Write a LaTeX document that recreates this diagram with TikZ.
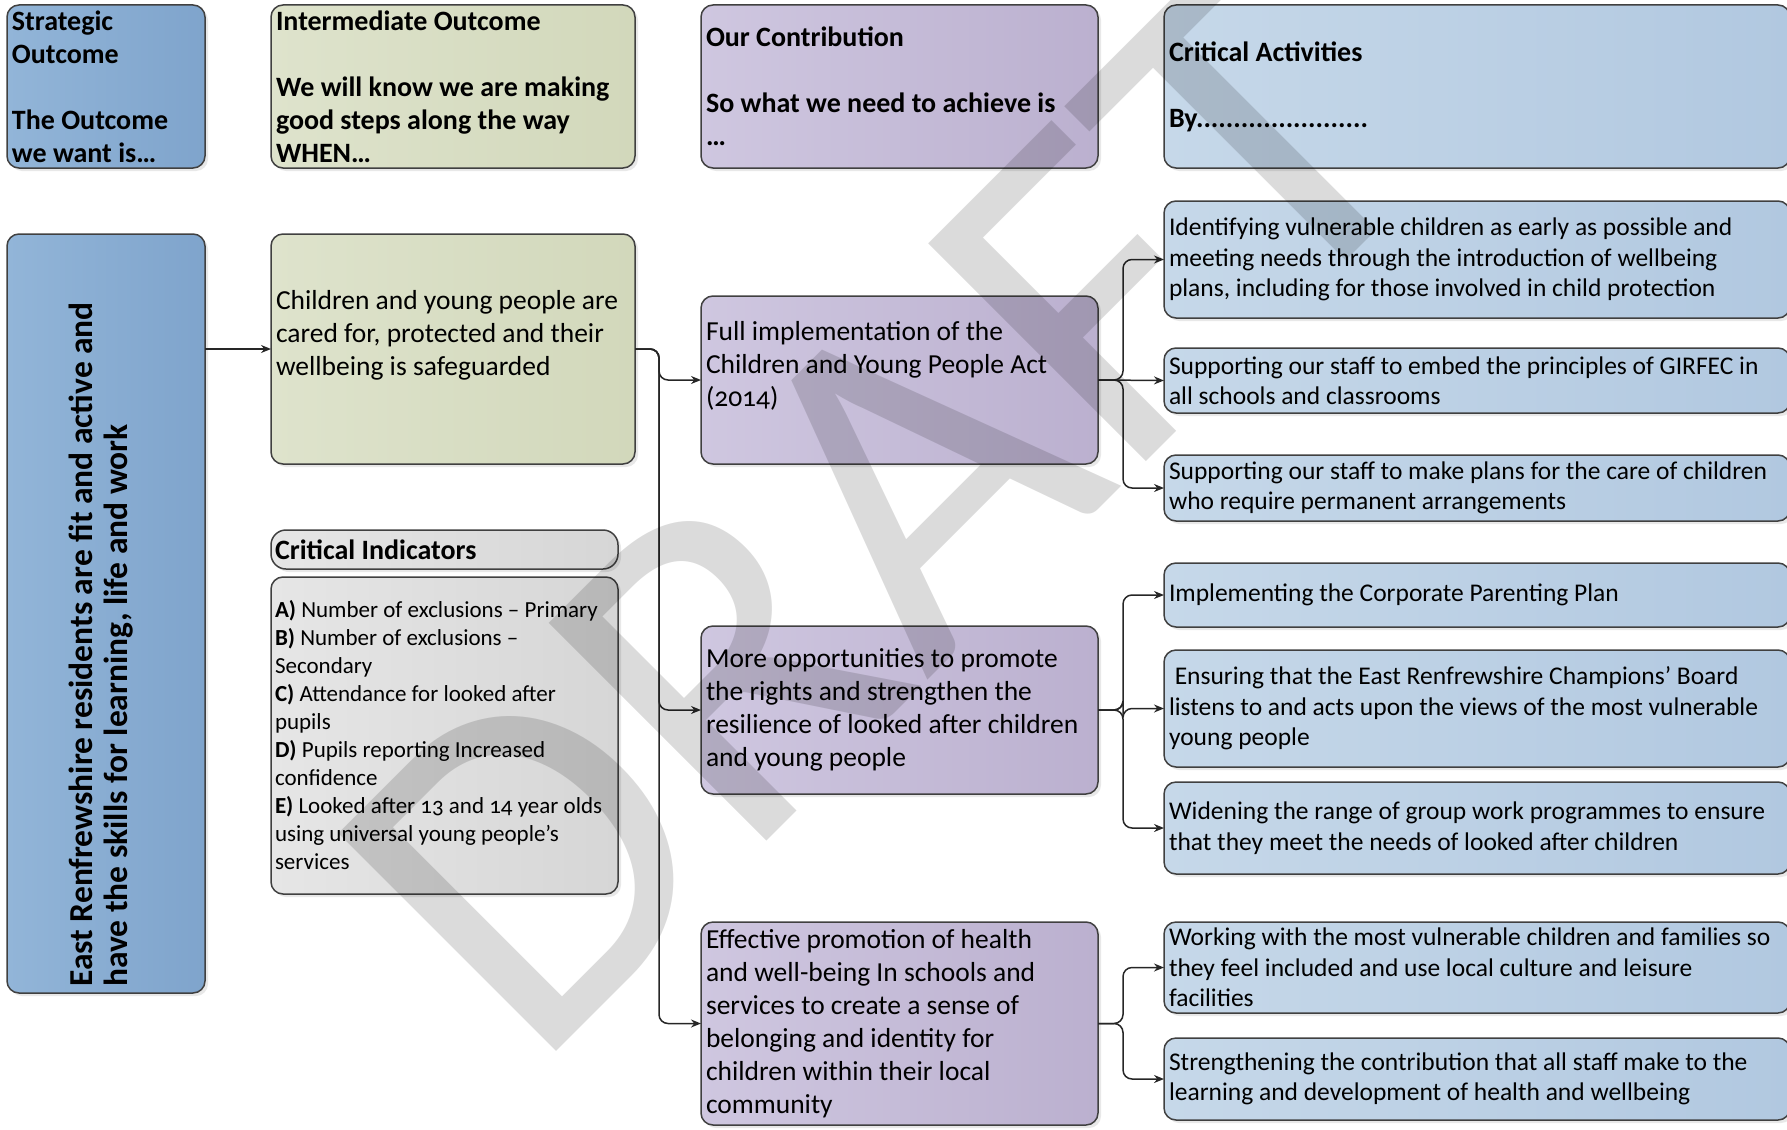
\documentclass[tikz,border=0pt]{standalone}
\usepackage{fontspec}
\setmainfont{Carlito}[Numbers=OldStyle]
\usetikzlibrary{shapes,arrows.meta,calc,positioning,shadows}

\definecolor{soblueA}{RGB}{146,181,216}
\definecolor{soblueB}{RGB}{127,164,204}
\definecolor{iogreenA}{RGB}{222,227,204}
\definecolor{iogreenB}{RGB}{210,216,187}
\definecolor{ocpurpleA}{RGB}{207,199,224}
\definecolor{ocpurpleB}{RGB}{187,176,207}
\definecolor{cablueA}{RGB}{198,216,233}
\definecolor{cablueB}{RGB}{177,200,224}
\definecolor{cigreyA}{RGB}{230,230,230}
\definecolor{cigreyB}{RGB}{214,214,214}

\tikzset{
  box/.style={rectangle, rounded corners=12pt, draw=black!75, line width=1.5pt,
    inner xsep=5pt, inner ysep=0pt, outer sep=0pt, align=flush left,
    execute at begin node={\hyphenpenalty=10000\relax},
    drop shadow={shadow xshift=3pt, shadow yshift=-3pt, opacity=0.18}},
  headtxt/.style={font=\bfseries\fontsize{28pt}{33pt}\selectfont},
  bodytxt/.style={font=\fontsize{27.5pt}{33pt}\selectfont},
  acttxt/.style={font=\fontsize{25.5pt}{30.5pt}\selectfont},
  indtxt/.style={font=\fontsize{23pt}{28pt}\selectfont},
  strategic/.style={box, left color=soblueA, right color=soblueB, text width=188pt},
  interm/.style={box, left color=iogreenA, right color=iogreenB, text width=354pt},
  contrib/.style={box, left color=ocpurpleA, right color=ocpurpleB, text width=387pt},
  activity/.style={box, left color=cablueA, right color=cablueB, text width=616pt, acttxt},
  indic/.style={box, left color=cigreyA, right color=cigreyB, inner xsep=4pt, text width=339pt},
  link/.style={line width=1.5pt, draw=black!85, rounded corners=9pt,
    -{Stealth[length=10pt,width=8pt]}},
  wmark/.style={font=\fontsize{480pt}{480pt}\selectfont, text=black, text opacity=0.14, inner sep=0pt}
}

\begin{document}
\begin{tikzpicture}
  \useasboundingbox (0,0) rectangle (1787pt,-1129pt);

  % header row
  \node[strategic, headtxt, minimum height=163pt, anchor=north west] (soh) at (7pt,-5pt)
    {Strategic\\Outcome\\[33pt]The Outcome\\we want is…};
  \node[interm, headtxt, minimum height=163pt, right=66pt of soh] (ioh)
    {Intermediate Outcome\\[33pt]We will know we are making\\good steps along the way\\WHEN…};
  \node[contrib, headtxt, minimum height=163pt, right=66pt of ioh] (och)
    {Our Contribution\\[33pt]So what we need to achieve is\\…};
  \node[activity, headtxt, minimum height=163pt, right=66pt of och] (cah)
    {Critical Activities\\[33pt]By.......................};

  % strategic outcome
  \node[strategic, minimum height=759pt, below=66pt of soh] (so) {};
  \node[rotate=90, anchor=west, inner sep=0pt, align=left,
        font=\bfseries\fontsize{33.5pt}{35pt}\selectfont] (sotxt)
    at ([xshift=-5pt, yshift=6pt]so.south)
    {East Renfrewshire residents are fit and active and\\have the skills for learning, life and work};

  % intermediate outcome and indicators
  \node[interm, bodytxt, minimum height=230pt, below=66pt of ioh] (io)
    {Children and young people are\\cared for, protected and their\\wellbeing is safeguarded\\\mbox{}};
  \node[indic, headtxt, rounded corners=15pt, minimum height=39pt,
        below=66pt of io.south west, anchor=north west] (cit) {Critical Indicators};
  \node[indic, indtxt, minimum height=317pt, below=8pt of cit] (cib)
    {\textbf{A)} Number of exclusions – Primary\\
     \textbf{B)} Number of exclusions –\\
     Secondary\\
     \textbf{C)} Attendance for looked after\\
     pupils\\
     \textbf{D)} Pupils reporting Increased\\
     confidence\\
     \textbf{E)} Looked after 13 and 14 year olds\\
     using universal young people’s\\
     services};

  % contributions
  \node[contrib, bodytxt, minimum height=168pt, right=66pt of io.south east, anchor=south west] (c1)
    {Full implementation of the\\Children and Young People Act\\(2014)\\\mbox{}};
  \node[contrib, bodytxt, minimum height=168pt, below=162pt of c1] (c2)
    {More opportunities to promote\\the rights and strengthen the\\resilience of looked after children\\and young people};
  \node[contrib, bodytxt, minimum height=203pt, below=128pt of c2] (c3)
    {Effective promotion of health\\and well-being In schools and\\services to create a sense of\\belonging and identity for\\children within their local\\community};

  % critical activities
  \node[activity, minimum height=117pt, below=33pt of cah.south west, anchor=north west] (a1)
    {Identifying vulnerable children as early as possible and\\meeting needs through the introduction of wellbeing\\plans, including for those involved in child protection};
  \node[activity, minimum height=65pt, below=30pt of a1] (a2)
    {Supporting our staff to embed the principles of GIRFEC in\\all schools and classrooms};
  \node[activity, minimum height=66pt, below=42pt of a2] (a3)
    {Supporting our staff to make plans for the care of children\\who require permanent arrangements};
  \node[activity, minimum height=64pt, below=42pt of a3] (a4)
    {Implementing the Corporate Parenting Plan};
  \node[activity, minimum height=117pt, below=23pt of a4] (a5)
    {\ Ensuring that the East Renfrewshire Champions’ Board\\listens to and acts upon the views of the most vulnerable\\young people};
  \node[activity, minimum height=92pt, below=15pt of a5] (a6)
    {Widening the range of group work programmes to ensure\\that they meet the needs of looked after children};
  \node[activity, minimum height=91pt, below=48pt of a6] (a7)
    {Working with the most vulnerable children and families so\\they feel included and use local culture and leisure\\facilities};
  \node[activity, minimum height=82pt, below=25pt of a7] (a8)
    {Strengthening the contribution that all staff make to the\\learning and development of health and wellbeing};

  % connectors
  \draw[link] (io.west -| so.east) -- (io.west);
  \draw[link] (io.east) -- ++(24pt,0) |- (c1.west);
  \draw[link] (io.east) -- ++(24pt,0) |- (c2.west);
  \draw[link] (io.east) -- ++(24pt,0) |- (c3.west);

  \draw[link] (c1.east) -- ++(25pt,0) |- (a1.west);
  \draw[link] (c1.east) -- (a2.west);
  \draw[link] (c1.east) -- ++(25pt,0) |- (a3.west);
  \draw[link] (c2.east) -- ++(25pt,0) |- (a4.west);
  \draw[link] (c2.east) -- ++(25pt,0) |- (a5.west);
  \draw[link] (c2.east) -- ++(25pt,0) |- (a6.west);
  \draw[link] (c3.east) -- ++(25pt,0) |- (a7.west);
  \draw[link] (c3.east) -- ++(25pt,0) |- (a8.west);

  % watermark
  \node[wmark, rotate=45] (draft) at (880pt,-510pt) {DRAFT};
\end{tikzpicture}
\end{document}
